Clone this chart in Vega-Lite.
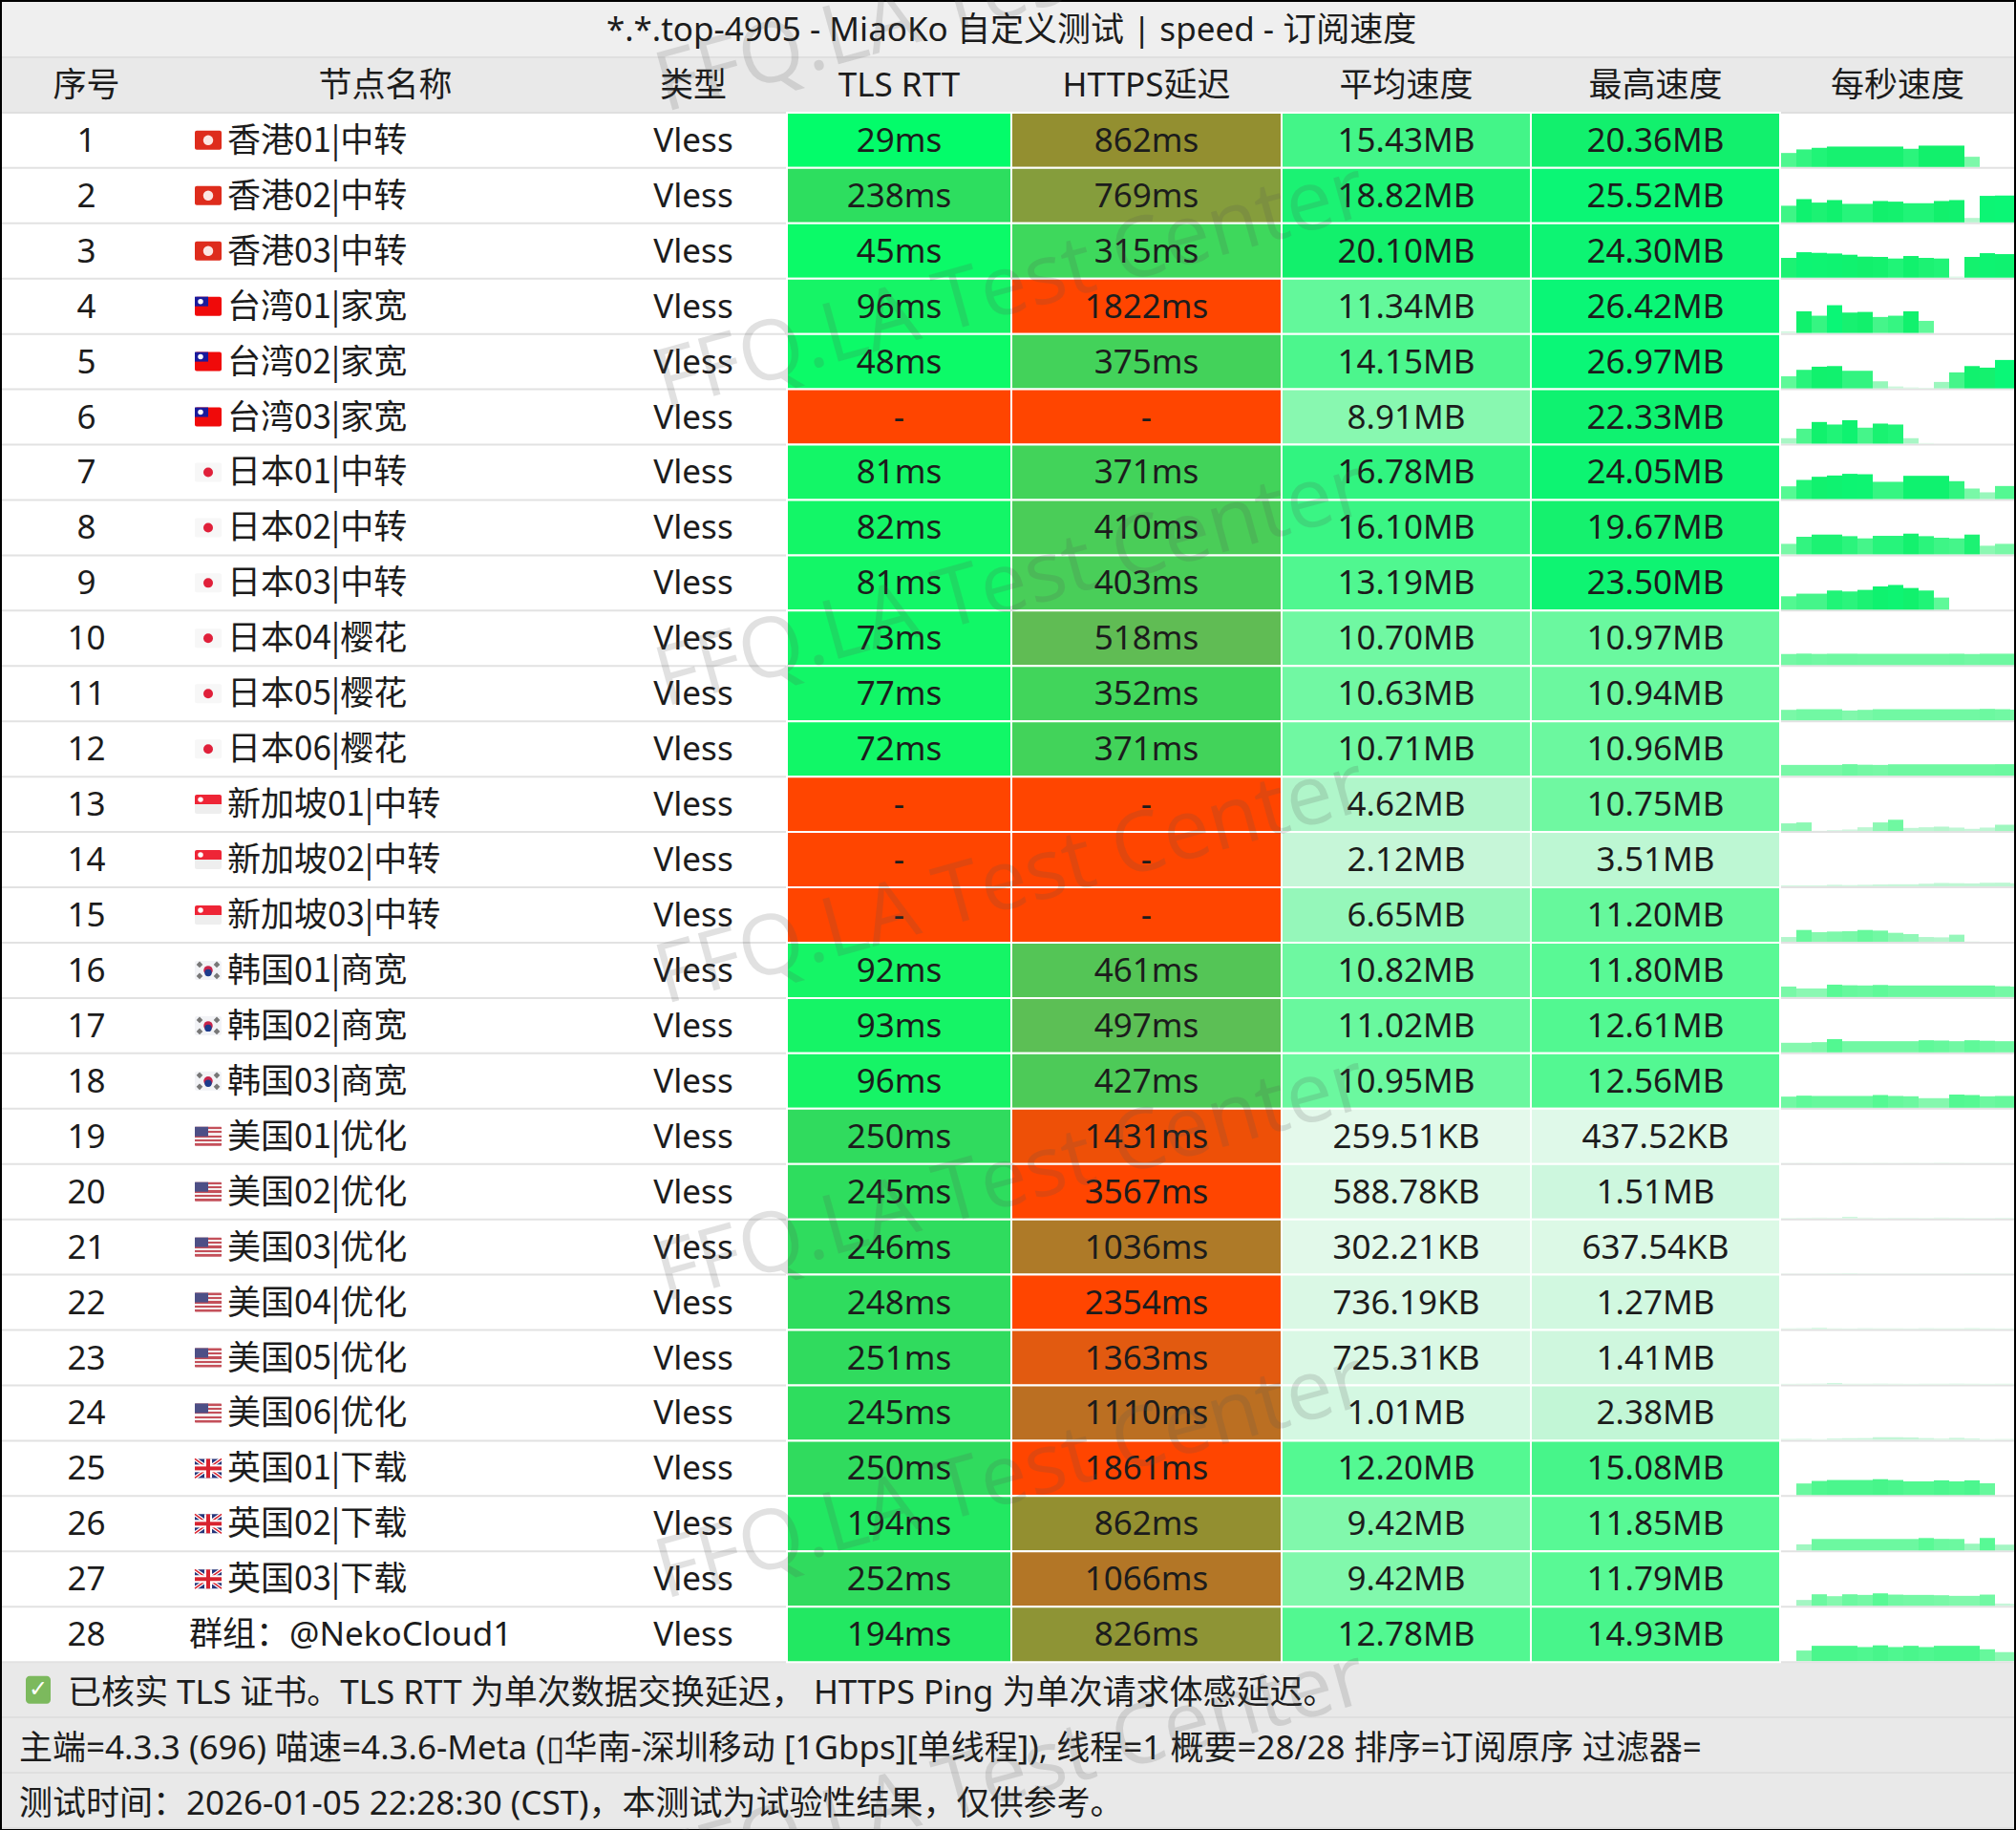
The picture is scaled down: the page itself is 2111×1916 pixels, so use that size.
{"$schema":"https://vega.github.io/schema/vega-lite/v6.json","width":2111,"height":1916,"padding":0,"autosize":"none","background":"#ffffff",
"config":{"view":{"stroke":"#000000","strokeWidth":4},"axis":{"disable":true},"legend":{"disable":true},"text":{"font":"Noto Sans, Noto Sans CJK SC","fontSize":35,"color":"#1c1c1c","dy":1}},
"datasets":{
"bands":[{"row":"标题","kind":"t","label":"*.*.top-4905 - MiaoKo 自定义测试 | speed - 订阅速度"},{"row":"表头","kind":"h"},{"row":"f1","kind":"f","label":"已核实 TLS 证书。TLS RTT 为单次数据交换延迟，  HTTPS Ping 为单次请求体感延迟。"},{"row":"f2","kind":"f","label":"主端=4.3.3 (696) 喵速=4.3.6-Meta (▯华南-深圳移动 [1Gbps][单线程]), 线程=1 概要=28/28 排序=订阅原序 过滤器="},{"row":"f3","kind":"f","label":"测试时间：2026-01-05 22:28:30 (CST)，本测试为试验性结果，仅供参考。"}],
"heads":[{"row":"表头","col":0.5,"label":"序号"},{"row":"表头","col":1.5,"label":"节点名称"},{"row":"表头","col":2.5,"label":"类型"},{"row":"表头","col":3.5,"label":"TLS RTT"},{"row":"表头","col":4.5,"label":"HTTPS延迟"},{"row":"表头","col":5.5,"label":"平均速度"},{"row":"表头","col":6.5,"label":"最高速度"},{"row":"表头","col":7.5,"label":"每秒速度"}],
"rows":[
{"row":"1","name":"香港01|中转","region":"HK","kind":"Vless","tls":29,"tlsT":"29ms","https":862,"httpsT":"862ms","avg":15.43,"avgT":"15.43MB","max":20.36,"maxT":"20.36MB"},
{"row":"2","name":"香港02|中转","region":"HK","kind":"Vless","tls":238,"tlsT":"238ms","https":769,"httpsT":"769ms","avg":18.82,"avgT":"18.82MB","max":25.52,"maxT":"25.52MB"},
{"row":"3","name":"香港03|中转","region":"HK","kind":"Vless","tls":45,"tlsT":"45ms","https":315,"httpsT":"315ms","avg":20.10,"avgT":"20.10MB","max":24.30,"maxT":"24.30MB"},
{"row":"4","name":"台湾01|家宽","region":"TW","kind":"Vless","tls":96,"tlsT":"96ms","https":1822,"httpsT":"1822ms","avg":11.34,"avgT":"11.34MB","max":26.42,"maxT":"26.42MB"},
{"row":"5","name":"台湾02|家宽","region":"TW","kind":"Vless","tls":48,"tlsT":"48ms","https":375,"httpsT":"375ms","avg":14.15,"avgT":"14.15MB","max":26.97,"maxT":"26.97MB"},
{"row":"6","name":"台湾03|家宽","region":"TW","kind":"Vless","tls":9999,"tlsT":"-","https":9999,"httpsT":"-","avg":8.91,"avgT":"8.91MB","max":22.33,"maxT":"22.33MB"},
{"row":"7","name":"日本01|中转","region":"JP","kind":"Vless","tls":81,"tlsT":"81ms","https":371,"httpsT":"371ms","avg":16.78,"avgT":"16.78MB","max":24.05,"maxT":"24.05MB"},
{"row":"8","name":"日本02|中转","region":"JP","kind":"Vless","tls":82,"tlsT":"82ms","https":410,"httpsT":"410ms","avg":16.10,"avgT":"16.10MB","max":19.67,"maxT":"19.67MB"},
{"row":"9","name":"日本03|中转","region":"JP","kind":"Vless","tls":81,"tlsT":"81ms","https":403,"httpsT":"403ms","avg":13.19,"avgT":"13.19MB","max":23.50,"maxT":"23.50MB"},
{"row":"10","name":"日本04|樱花","region":"JP","kind":"Vless","tls":73,"tlsT":"73ms","https":518,"httpsT":"518ms","avg":10.70,"avgT":"10.70MB","max":10.97,"maxT":"10.97MB"},
{"row":"11","name":"日本05|樱花","region":"JP","kind":"Vless","tls":77,"tlsT":"77ms","https":352,"httpsT":"352ms","avg":10.63,"avgT":"10.63MB","max":10.94,"maxT":"10.94MB"},
{"row":"12","name":"日本06|樱花","region":"JP","kind":"Vless","tls":72,"tlsT":"72ms","https":371,"httpsT":"371ms","avg":10.71,"avgT":"10.71MB","max":10.96,"maxT":"10.96MB"},
{"row":"13","name":"新加坡01|中转","region":"SG","kind":"Vless","tls":9999,"tlsT":"-","https":9999,"httpsT":"-","avg":4.62,"avgT":"4.62MB","max":10.75,"maxT":"10.75MB"},
{"row":"14","name":"新加坡02|中转","region":"SG","kind":"Vless","tls":9999,"tlsT":"-","https":9999,"httpsT":"-","avg":2.12,"avgT":"2.12MB","max":3.51,"maxT":"3.51MB"},
{"row":"15","name":"新加坡03|中转","region":"SG","kind":"Vless","tls":9999,"tlsT":"-","https":9999,"httpsT":"-","avg":6.65,"avgT":"6.65MB","max":11.20,"maxT":"11.20MB"},
{"row":"16","name":"韩国01|商宽","region":"KR","kind":"Vless","tls":92,"tlsT":"92ms","https":461,"httpsT":"461ms","avg":10.82,"avgT":"10.82MB","max":11.80,"maxT":"11.80MB"},
{"row":"17","name":"韩国02|商宽","region":"KR","kind":"Vless","tls":93,"tlsT":"93ms","https":497,"httpsT":"497ms","avg":11.02,"avgT":"11.02MB","max":12.61,"maxT":"12.61MB"},
{"row":"18","name":"韩国03|商宽","region":"KR","kind":"Vless","tls":96,"tlsT":"96ms","https":427,"httpsT":"427ms","avg":10.95,"avgT":"10.95MB","max":12.56,"maxT":"12.56MB"},
{"row":"19","name":"美国01|优化","region":"US","kind":"Vless","tls":250,"tlsT":"250ms","https":1431,"httpsT":"1431ms","avg":0.25,"avgT":"259.51KB","max":0.43,"maxT":"437.52KB"},
{"row":"20","name":"美国02|优化","region":"US","kind":"Vless","tls":245,"tlsT":"245ms","https":3567,"httpsT":"3567ms","avg":0.57,"avgT":"588.78KB","max":1.51,"maxT":"1.51MB"},
{"row":"21","name":"美国03|优化","region":"US","kind":"Vless","tls":246,"tlsT":"246ms","https":1036,"httpsT":"1036ms","avg":0.30,"avgT":"302.21KB","max":0.62,"maxT":"637.54KB"},
{"row":"22","name":"美国04|优化","region":"US","kind":"Vless","tls":248,"tlsT":"248ms","https":2354,"httpsT":"2354ms","avg":0.72,"avgT":"736.19KB","max":1.27,"maxT":"1.27MB"},
{"row":"23","name":"美国05|优化","region":"US","kind":"Vless","tls":251,"tlsT":"251ms","https":1363,"httpsT":"1363ms","avg":0.71,"avgT":"725.31KB","max":1.41,"maxT":"1.41MB"},
{"row":"24","name":"美国06|优化","region":"US","kind":"Vless","tls":245,"tlsT":"245ms","https":1110,"httpsT":"1110ms","avg":1.01,"avgT":"1.01MB","max":2.38,"maxT":"2.38MB"},
{"row":"25","name":"英国01|下载","region":"UK","kind":"Vless","tls":250,"tlsT":"250ms","https":1861,"httpsT":"1861ms","avg":12.20,"avgT":"12.20MB","max":15.08,"maxT":"15.08MB"},
{"row":"26","name":"英国02|下载","region":"UK","kind":"Vless","tls":194,"tlsT":"194ms","https":862,"httpsT":"862ms","avg":9.42,"avgT":"9.42MB","max":11.85,"maxT":"11.85MB"},
{"row":"27","name":"英国03|下载","region":"UK","kind":"Vless","tls":252,"tlsT":"252ms","https":1066,"httpsT":"1066ms","avg":9.42,"avgT":"9.42MB","max":11.79,"maxT":"11.79MB"},
{"row":"28","name":"群组：@NekoCloud1","region":"none","kind":"Vless","tls":194,"tlsT":"194ms","https":826,"httpsT":"826ms","avg":12.78,"avgT":"12.78MB","max":14.93,"maxT":"14.93MB"}
],
"marks":[{"n":0,"label":"FFQ.LA Test Center"},{"n":1,"label":"FFQ.LA Test Center"},{"n":2,"label":"FFQ.LA Test Center"},{"n":3,"label":"FFQ.LA Test Center"},{"n":4,"label":"FFQ.LA Test Center"},{"n":5,"label":"FFQ.LA Test Center"},{"n":6,"label":"FFQ.LA Test Center"}],
"spark":[
{"r":"1","t":0,"v":13.3},{"r":"1","t":1,"v":16.7},{"r":"1","t":2,"v":18.2},{"r":"1","t":3,"v":19.4},{"r":"1","t":4,"v":19.4},{"r":"1","t":5,"v":19.4},{"r":"1","t":6,"v":19.4},{"r":"1","t":7,"v":19.4},{"r":"1","t":8,"v":17.3},{"r":"1","t":9,"v":20.3},{"r":"1","t":10,"v":20.3},{"r":"1","t":11,"v":20.3},{"r":"1","t":12,"v":9.7},{"r":"1","t":13,"v":0},{"r":"1","t":14,"v":0},{"r":"1","t":15,"v":0},
{"r":"2","t":0,"v":15.8},{"r":"2","t":1,"v":22.1},{"r":"2","t":2,"v":18.8},{"r":"2","t":3,"v":21.2},{"r":"2","t":4,"v":17.6},{"r":"2","t":5,"v":17.6},{"r":"2","t":6,"v":20.3},{"r":"2","t":7,"v":19.7},{"r":"2","t":8,"v":18.2},{"r":"2","t":9,"v":18.2},{"r":"2","t":10,"v":20.3},{"r":"2","t":11,"v":21.2},{"r":"2","t":12,"v":4.2},{"r":"2","t":13,"v":25.2},{"r":"2","t":14,"v":25.5},{"r":"2","t":15,"v":25.5},
{"r":"3","t":0,"v":18.8},{"r":"3","t":1,"v":24.2},{"r":"3","t":2,"v":23.6},{"r":"3","t":3,"v":23},{"r":"3","t":4,"v":21.8},{"r":"3","t":5,"v":20},{"r":"3","t":6,"v":19.7},{"r":"3","t":7,"v":18.2},{"r":"3","t":8,"v":20.6},{"r":"3","t":9,"v":18.8},{"r":"3","t":10,"v":18.2},{"r":"3","t":11,"v":1},{"r":"3","t":12,"v":19.7},{"r":"3","t":13,"v":23.3},{"r":"3","t":14,"v":22.4},{"r":"3","t":15,"v":22.4},
{"r":"4","t":0,"v":1.5},{"r":"4","t":1,"v":20.6},{"r":"4","t":2,"v":16.4},{"r":"4","t":3,"v":26.4},{"r":"4","t":4,"v":19.4},{"r":"4","t":5,"v":20},{"r":"4","t":6,"v":15.2},{"r":"4","t":7,"v":16.4},{"r":"4","t":8,"v":20.6},{"r":"4","t":9,"v":11.5},{"r":"4","t":10,"v":0},{"r":"4","t":11,"v":0},{"r":"4","t":12,"v":0},{"r":"4","t":13,"v":0},{"r":"4","t":14,"v":0},{"r":"4","t":15,"v":0},
{"r":"5","t":0,"v":11.5},{"r":"5","t":1,"v":17.6},{"r":"5","t":2,"v":20.6},{"r":"5","t":3,"v":21.2},{"r":"5","t":4,"v":16.7},{"r":"5","t":5,"v":16.7},{"r":"5","t":6,"v":6.7},{"r":"5","t":7,"v":1.8},{"r":"5","t":8,"v":0.9},{"r":"5","t":9,"v":0.6},{"r":"5","t":10,"v":6.1},{"r":"5","t":11,"v":15.2},{"r":"5","t":12,"v":21.2},{"r":"5","t":13,"v":19.7},{"r":"5","t":14,"v":27},{"r":"5","t":15,"v":27},
{"r":"6","t":0,"v":5.2},{"r":"6","t":1,"v":14.2},{"r":"6","t":2,"v":20.6},{"r":"6","t":3,"v":18.2},{"r":"6","t":4,"v":22.3},{"r":"6","t":5,"v":15.2},{"r":"6","t":6,"v":19.1},{"r":"6","t":7,"v":18.2},{"r":"6","t":8,"v":5.2},{"r":"6","t":9,"v":0.6},{"r":"6","t":10,"v":0},{"r":"6","t":11,"v":0},{"r":"6","t":12,"v":0},{"r":"6","t":13,"v":0},{"r":"6","t":14,"v":0},{"r":"6","t":15,"v":0},
{"r":"7","t":0,"v":12.1},{"r":"7","t":1,"v":18.2},{"r":"7","t":2,"v":21.2},{"r":"7","t":3,"v":22.4},{"r":"7","t":4,"v":24},{"r":"7","t":5,"v":23.6},{"r":"7","t":6,"v":16.4},{"r":"7","t":7,"v":16.4},{"r":"7","t":8,"v":22.1},{"r":"7","t":9,"v":22.1},{"r":"7","t":10,"v":22.1},{"r":"7","t":11,"v":17},{"r":"7","t":12,"v":10},{"r":"7","t":13,"v":6.4},{"r":"7","t":14,"v":12.4},{"r":"7","t":15,"v":12.4},
{"r":"8","t":0,"v":10},{"r":"8","t":1,"v":16.7},{"r":"8","t":2,"v":18.8},{"r":"8","t":3,"v":18.8},{"r":"8","t":4,"v":17.3},{"r":"8","t":5,"v":15.2},{"r":"8","t":6,"v":17.6},{"r":"8","t":7,"v":17.6},{"r":"8","t":8,"v":19.7},{"r":"8","t":9,"v":17.3},{"r":"8","t":10,"v":15.8},{"r":"8","t":11,"v":15.2},{"r":"8","t":12,"v":18.8},{"r":"8","t":13,"v":8.2},{"r":"8","t":14,"v":10},{"r":"8","t":15,"v":10},
{"r":"9","t":0,"v":12.7},{"r":"9","t":1,"v":15.2},{"r":"9","t":2,"v":15.2},{"r":"9","t":3,"v":18.2},{"r":"9","t":4,"v":17.3},{"r":"9","t":5,"v":18.8},{"r":"9","t":6,"v":22.1},{"r":"9","t":7,"v":23.5},{"r":"9","t":8,"v":20.6},{"r":"9","t":9,"v":18.2},{"r":"9","t":10,"v":11.5},{"r":"9","t":11,"v":0},{"r":"9","t":12,"v":0},{"r":"9","t":13,"v":0},{"r":"9","t":14,"v":0},{"r":"9","t":15,"v":0},
{"r":"10","t":0,"v":10.5},{"r":"10","t":1,"v":10.9},{"r":"10","t":2,"v":10.6},{"r":"10","t":3,"v":10.8},{"r":"10","t":4,"v":10.8},{"r":"10","t":5,"v":10.7},{"r":"10","t":6,"v":10.7},{"r":"10","t":7,"v":10.7},{"r":"10","t":8,"v":10.7},{"r":"10","t":9,"v":10.7},{"r":"10","t":10,"v":10.7},{"r":"10","t":11,"v":10.8},{"r":"10","t":12,"v":10.5},{"r":"10","t":13,"v":10.8},{"r":"10","t":14,"v":10.8},{"r":"10","t":15,"v":10.8},
{"r":"11","t":0,"v":10},{"r":"11","t":1,"v":10.6},{"r":"11","t":2,"v":10.6},{"r":"11","t":3,"v":10.6},{"r":"11","t":4,"v":9.4},{"r":"11","t":5,"v":10},{"r":"11","t":6,"v":10.6},{"r":"11","t":7,"v":10.6},{"r":"11","t":8,"v":10.6},{"r":"11","t":9,"v":10.6},{"r":"11","t":10,"v":10.6},{"r":"11","t":11,"v":10.6},{"r":"11","t":12,"v":10.6},{"r":"11","t":13,"v":10.9},{"r":"11","t":14,"v":10.6},{"r":"11","t":15,"v":10.2},
{"r":"12","t":0,"v":10.2},{"r":"12","t":1,"v":10.2},{"r":"12","t":2,"v":10.2},{"r":"12","t":3,"v":10.2},{"r":"12","t":4,"v":10.9},{"r":"12","t":5,"v":10.4},{"r":"12","t":6,"v":10.2},{"r":"12","t":7,"v":10.8},{"r":"12","t":8,"v":10.8},{"r":"12","t":9,"v":10.8},{"r":"12","t":10,"v":10.8},{"r":"12","t":11,"v":10.8},{"r":"12","t":12,"v":10.8},{"r":"12","t":13,"v":10.8},{"r":"12","t":14,"v":10.9},{"r":"12","t":15,"v":10.9},
{"r":"13","t":0,"v":7.3},{"r":"13","t":1,"v":8.2},{"r":"13","t":2,"v":0.3},{"r":"13","t":3,"v":0.9},{"r":"13","t":4,"v":1.5},{"r":"13","t":5,"v":3.6},{"r":"13","t":6,"v":8.2},{"r":"13","t":7,"v":10.75},{"r":"13","t":8,"v":3},{"r":"13","t":9,"v":3.6},{"r":"13","t":10,"v":4.2},{"r":"13","t":11,"v":3.3},{"r":"13","t":12,"v":2.1},{"r":"13","t":13,"v":3.3},{"r":"13","t":14,"v":6},{"r":"13","t":15,"v":6},
{"r":"14","t":0,"v":1},{"r":"14","t":1,"v":1},{"r":"14","t":2,"v":1},{"r":"14","t":3,"v":1.5},{"r":"14","t":4,"v":1.2},{"r":"14","t":5,"v":1.5},{"r":"14","t":6,"v":1.8},{"r":"14","t":7,"v":2},{"r":"14","t":8,"v":2},{"r":"14","t":9,"v":2.5},{"r":"14","t":10,"v":3.2},{"r":"14","t":11,"v":3},{"r":"14","t":12,"v":2.8},{"r":"14","t":13,"v":3.4},{"r":"14","t":14,"v":3.5},{"r":"14","t":15,"v":3},
{"r":"15","t":0,"v":4.5},{"r":"15","t":1,"v":11.2},{"r":"15","t":2,"v":9.1},{"r":"15","t":3,"v":9.7},{"r":"15","t":4,"v":10},{"r":"15","t":5,"v":11.2},{"r":"15","t":6,"v":10.6},{"r":"15","t":7,"v":8.5},{"r":"15","t":8,"v":7.3},{"r":"15","t":9,"v":4.5},{"r":"15","t":10,"v":4.2},{"r":"15","t":11,"v":6.7},{"r":"15","t":12,"v":0.3},{"r":"15","t":13,"v":0},{"r":"15","t":14,"v":0},{"r":"15","t":15,"v":0},
{"r":"16","t":0,"v":10},{"r":"16","t":1,"v":8.2},{"r":"16","t":2,"v":8.2},{"r":"16","t":3,"v":11.8},{"r":"16","t":4,"v":11.2},{"r":"16","t":5,"v":11},{"r":"16","t":6,"v":11.5},{"r":"16","t":7,"v":11},{"r":"16","t":8,"v":11},{"r":"16","t":9,"v":11},{"r":"16","t":10,"v":11},{"r":"16","t":11,"v":11},{"r":"16","t":12,"v":11},{"r":"16","t":13,"v":11},{"r":"16","t":14,"v":10.3},{"r":"16","t":15,"v":10},
{"r":"17","t":0,"v":9.1},{"r":"17","t":1,"v":9.1},{"r":"17","t":2,"v":9.7},{"r":"17","t":3,"v":12.6},{"r":"17","t":4,"v":10.6},{"r":"17","t":5,"v":10.6},{"r":"17","t":6,"v":10.6},{"r":"17","t":7,"v":10.6},{"r":"17","t":8,"v":10.6},{"r":"17","t":9,"v":11.5},{"r":"17","t":10,"v":11.2},{"r":"17","t":11,"v":10.6},{"r":"17","t":12,"v":11.5},{"r":"17","t":13,"v":11},{"r":"17","t":14,"v":10.6},{"r":"17","t":15,"v":10.6},
{"r":"18","t":0,"v":10.6},{"r":"18","t":1,"v":11.5},{"r":"18","t":2,"v":11.2},{"r":"18","t":3,"v":11.2},{"r":"18","t":4,"v":11.2},{"r":"18","t":5,"v":11.2},{"r":"18","t":6,"v":12.1},{"r":"18","t":7,"v":11.2},{"r":"18","t":8,"v":10.9},{"r":"18","t":9,"v":9.1},{"r":"18","t":10,"v":9.1},{"r":"18","t":11,"v":12.56},{"r":"18","t":12,"v":12.1},{"r":"18","t":13,"v":10.9},{"r":"18","t":14,"v":11.2},{"r":"18","t":15,"v":11.2},
{"r":"19","t":0,"v":0.2},{"r":"19","t":1,"v":0.3},{"r":"19","t":2,"v":0.25},{"r":"19","t":3,"v":0.25},{"r":"19","t":4,"v":0.3},{"r":"19","t":5,"v":0.25},{"r":"19","t":6,"v":0.3},{"r":"19","t":7,"v":0.25},{"r":"19","t":8,"v":0.3},{"r":"19","t":9,"v":0.25},{"r":"19","t":10,"v":0.4},{"r":"19","t":11,"v":0.3},{"r":"19","t":12,"v":0.25},{"r":"19","t":13,"v":0.2},{"r":"19","t":14,"v":0.25},{"r":"19","t":15,"v":0.25},
{"r":"20","t":0,"v":0.5},{"r":"20","t":1,"v":0.6},{"r":"20","t":2,"v":0.7},{"r":"20","t":3,"v":0.6},{"r":"20","t":4,"v":1.5},{"r":"20","t":5,"v":0.7},{"r":"20","t":6,"v":0.5},{"r":"20","t":7,"v":0.6},{"r":"20","t":8,"v":0.6},{"r":"20","t":9,"v":0.5},{"r":"20","t":10,"v":0.7},{"r":"20","t":11,"v":0.6},{"r":"20","t":12,"v":0.5},{"r":"20","t":13,"v":0.4},{"r":"20","t":14,"v":0.6},{"r":"20","t":15,"v":0.6},
{"r":"21","t":0,"v":0.3},{"r":"21","t":1,"v":0.2},{"r":"21","t":2,"v":0.3},{"r":"21","t":3,"v":0.4},{"r":"21","t":4,"v":0.6},{"r":"21","t":5,"v":0.3},{"r":"21","t":6,"v":0.3},{"r":"21","t":7,"v":0.2},{"r":"21","t":8,"v":0.3},{"r":"21","t":9,"v":0.3},{"r":"21","t":10,"v":0.3},{"r":"21","t":11,"v":0.2},{"r":"21","t":12,"v":0.4},{"r":"21","t":13,"v":0.3},{"r":"21","t":14,"v":0.3},{"r":"21","t":15,"v":0.2},
{"r":"22","t":0,"v":0.7},{"r":"22","t":1,"v":0.8},{"r":"22","t":2,"v":1.2},{"r":"22","t":3,"v":0.7},{"r":"22","t":4,"v":0.6},{"r":"22","t":5,"v":0.8},{"r":"22","t":6,"v":0.7},{"r":"22","t":7,"v":0.7},{"r":"22","t":8,"v":0.6},{"r":"22","t":9,"v":0.8},{"r":"22","t":10,"v":0.7},{"r":"22","t":11,"v":0.7},{"r":"22","t":12,"v":0.9},{"r":"22","t":13,"v":0.7},{"r":"22","t":14,"v":0.6},{"r":"22","t":15,"v":0.7},
{"r":"23","t":0,"v":0.6},{"r":"23","t":1,"v":0.7},{"r":"23","t":2,"v":0.8},{"r":"23","t":3,"v":1.4},{"r":"23","t":4,"v":0.7},{"r":"23","t":5,"v":0.7},{"r":"23","t":6,"v":0.8},{"r":"23","t":7,"v":0.7},{"r":"23","t":8,"v":0.6},{"r":"23","t":9,"v":0.7},{"r":"23","t":10,"v":0.7},{"r":"23","t":11,"v":0.8},{"r":"23","t":12,"v":0.7},{"r":"23","t":13,"v":0.6},{"r":"23","t":14,"v":0.7},{"r":"23","t":15,"v":0.7},
{"r":"24","t":0,"v":0.8},{"r":"24","t":1,"v":0.9},{"r":"24","t":2,"v":0.6},{"r":"24","t":3,"v":1.2},{"r":"24","t":4,"v":1.5},{"r":"24","t":5,"v":1.6},{"r":"24","t":6,"v":2.4},{"r":"24","t":7,"v":2.4},{"r":"24","t":8,"v":2.2},{"r":"24","t":9,"v":1.6},{"r":"24","t":10,"v":1.1},{"r":"24","t":11,"v":1.8},{"r":"24","t":12,"v":1.2},{"r":"24","t":13,"v":0.6},{"r":"24","t":14,"v":0.7},{"r":"24","t":15,"v":0.8},
{"r":"25","t":0,"v":0},{"r":"25","t":1,"v":11},{"r":"25","t":2,"v":13.4},{"r":"25","t":3,"v":14.3},{"r":"25","t":4,"v":14.3},{"r":"25","t":5,"v":14.3},{"r":"25","t":6,"v":15.08},{"r":"25","t":7,"v":14.3},{"r":"25","t":8,"v":13},{"r":"25","t":9,"v":13},{"r":"25","t":10,"v":14},{"r":"25","t":11,"v":13},{"r":"25","t":12,"v":14},{"r":"25","t":13,"v":11.2},{"r":"25","t":14,"v":0},{"r":"25","t":15,"v":0},
{"r":"26","t":0,"v":0},{"r":"26","t":1,"v":5.8},{"r":"26","t":2,"v":10.9},{"r":"26","t":3,"v":10.9},{"r":"26","t":4,"v":10.9},{"r":"26","t":5,"v":10.9},{"r":"26","t":6,"v":10.9},{"r":"26","t":7,"v":10.9},{"r":"26","t":8,"v":10.9},{"r":"26","t":9,"v":11.8},{"r":"26","t":10,"v":11},{"r":"26","t":11,"v":10.9},{"r":"26","t":12,"v":6.4},{"r":"26","t":13,"v":11.85},{"r":"26","t":14,"v":5.5},{"r":"26","t":15,"v":5.5},
{"r":"27","t":0,"v":0},{"r":"27","t":1,"v":5.5},{"r":"27","t":2,"v":10.9},{"r":"27","t":3,"v":9.1},{"r":"27","t":4,"v":10.9},{"r":"27","t":5,"v":10.3},{"r":"27","t":6,"v":11.79},{"r":"27","t":7,"v":10.6},{"r":"27","t":8,"v":10.3},{"r":"27","t":9,"v":10.3},{"r":"27","t":10,"v":10},{"r":"27","t":11,"v":9.4},{"r":"27","t":12,"v":9.4},{"r":"27","t":13,"v":10.6},{"r":"27","t":14,"v":2.1},{"r":"27","t":15,"v":1.8},
{"r":"28","t":0,"v":0},{"r":"28","t":1,"v":10},{"r":"28","t":2,"v":14.5},{"r":"28","t":3,"v":14.5},{"r":"28","t":4,"v":14.5},{"r":"28","t":5,"v":13.3},{"r":"28","t":6,"v":14.93},{"r":"28","t":7,"v":13.3},{"r":"28","t":8,"v":14.5},{"r":"28","t":9,"v":13.3},{"r":"28","t":10,"v":14.5},{"r":"28","t":11,"v":14.5},{"r":"28","t":12,"v":14.5},{"r":"28","t":13,"v":11.2},{"r":"28","t":14,"v":8.5},{"r":"28","t":15,"v":8.5}
]},
"resolve":{"scale":{"x":"independent","y":"independent","color":"independent"}},
"layer":[
{"encoding":{"y":{"field":"row","type":"nominal","scale":{"type":"band","domain":["标题","表头","1","2","3","4","5","6","7","8","9","10","11","12","13","14","15","16","17","18","19","20","21","22","23","24","25","26","27","28","f1","f2","f3"],"range":[2,1914],"paddingInner":0,"paddingOuter":0}}},
"resolve":{"scale":{"x":"shared","y":"shared","color":"independent"}},
"layer":[
{"data":{"name":"bands"},"mark":{"type":"rect"},"encoding":{"x":{"datum":0,"type":"quantitative","scale":{"domain":[0,1,2,3,4,5,6,7,8],"range":[2,179,628,824,1059,1342,1603,1864,2110]}},"x2":{"datum":8},"color":{"field":"kind","type":"nominal","scale":{"domain":["t","h","f"],"range":["#efefef","#e9e9e9","#e9e9e9"]}}}},
{"data":{"name":"bands"},"mark":{"type":"rule","color":"#dfdfdf","strokeWidth":2},"encoding":{"y":{"field":"row","type":"nominal","bandPosition":1},"x":{"datum":0,"type":"quantitative","scale":{"domain":[0,1,2,3,4,5,6,7,8],"range":[2,179,628,824,1059,1342,1603,1864,2110]}},"x2":{"datum":8}}},
{"data":{"name":"rows"},"mark":{"type":"rule","color":"#e2e2e2","strokeWidth":2},"encoding":{"y":{"field":"row","type":"nominal","bandPosition":1},"x":{"datum":0,"type":"quantitative","scale":{"domain":[0,1,2,3,4,5,6,7,8],"range":[2,179,628,824,1059,1342,1603,1864,2110]}},"x2":{"datum":8}}},
{"data":{"name":"rows"},"mark":{"type":"rect","stroke":"#ffffff","strokeWidth":2},"encoding":{"x":{"datum":3,"type":"quantitative","scale":{"domain":[0,1,2,3,4,5,6,7,8],"range":[2,179,628,824,1059,1342,1603,1864,2110]}},"x2":{"datum":4},"color":{"field":"tls","type":"quantitative","scale":{"interpolate":"rgb","domain":[29,48,96,194,252,253,9999],"range":["#03fc6a","#0cfa68","#16f466","#22e862","#30db5e","#ff4500","#ff4500"]}}}},
{"data":{"name":"rows"},"mark":{"type":"rect","stroke":"#ffffff","strokeWidth":2},"encoding":{"x":{"datum":4,"type":"quantitative","scale":{"domain":[0,1,2,3,4,5,6,7,8],"range":[2,179,628,824,1059,1342,1603,1864,2110]}},"x2":{"datum":5},"color":{"field":"https","type":"quantitative","scale":{"interpolate":"rgb","clamp":true,"domain":[315,371,518,769,862,1036,1110,1363,1431,1822],"range":["#3ed85c","#42d35a","#60bc54","#859d3c","#938f30","#ae7a28","#bb6f22","#e25a10","#ee5007","#ff4500"]}}}},
{"data":{"name":"rows"},"mark":{"type":"rect","stroke":"#ffffff","strokeWidth":2},"encoding":{"x":{"datum":5,"type":"quantitative","scale":{"domain":[0,1,2,3,4,5,6,7,8],"range":[2,179,628,824,1059,1342,1603,1864,2110]}},"x2":{"datum":6},"color":{"field":"avg","type":"quantitative","scale":{"interpolate":"rgb","domain":[0,0.3,1,2.4,3.5,4.6,6.65,8.9,10.7,12,15,18,20,25],"range":["#ecfbf1","#e2f9ea","#d4f8e2","#c2f6d6","#bdf7d3","#b0f6ca","#95f7ba","#88f8b0","#70f8a2","#55f993","#48f58b","#22f478","#12f06c","#0cf574"]}}}},
{"data":{"name":"rows"},"mark":{"type":"rect","stroke":"#ffffff","strokeWidth":2},"encoding":{"x":{"datum":6,"type":"quantitative","scale":{"domain":[0,1,2,3,4,5,6,7,8],"range":[2,179,628,824,1059,1342,1603,1864,2110]}},"x2":{"datum":7},"color":{"field":"max","type":"quantitative","scale":{"interpolate":"rgb","domain":[0,0.3,1,2.4,3.5,4.6,6.65,8.9,10.7,12,15,18,20,25],"range":["#ecfbf1","#e2f9ea","#d4f8e2","#c2f6d6","#bdf7d3","#b0f6ca","#95f7ba","#88f8b0","#70f8a2","#55f993","#48f58b","#22f478","#12f06c","#0cf574"]}}}},
{"data":{"name":"bands"},"transform":[{"filter":"datum.kind=='t'"}],"mark":{"type":"text","fontSize":35},"encoding":{"x":{"datum":4,"type":"quantitative","scale":{"domain":[0,1,2,3,4,5,6,7,8],"range":[2,179,628,824,1059,1342,1603,1864,2110]}},"text":{"field":"label"}}},
{"data":{"name":"heads"},"mark":{"type":"text"},"encoding":{"x":{"field":"col","type":"quantitative","scale":{"domain":[0,1,2,3,4,5,6,7,8],"range":[2,179,628,824,1059,1342,1603,1864,2110]}},"text":{"field":"label"}}},
{"data":{"name":"rows"},"mark":{"type":"text"},"encoding":{"x":{"datum":0.5,"type":"quantitative","scale":{"domain":[0,1,2,3,4,5,6,7,8],"range":[2,179,628,824,1059,1342,1603,1864,2110]}},"text":{"field":"row"}}},
{"data":{"name":"rows"},"mark":{"type":"text"},"encoding":{"x":{"datum":2.5,"type":"quantitative","scale":{"domain":[0,1,2,3,4,5,6,7,8],"range":[2,179,628,824,1059,1342,1603,1864,2110]}},"text":{"field":"kind"}}},
{"data":{"name":"rows"},"mark":{"type":"text"},"encoding":{"x":{"datum":3.5,"type":"quantitative","scale":{"domain":[0,1,2,3,4,5,6,7,8],"range":[2,179,628,824,1059,1342,1603,1864,2110]}},"text":{"field":"tlsT"}}},
{"data":{"name":"rows"},"mark":{"type":"text"},"encoding":{"x":{"datum":4.5,"type":"quantitative","scale":{"domain":[0,1,2,3,4,5,6,7,8],"range":[2,179,628,824,1059,1342,1603,1864,2110]}},"text":{"field":"httpsT"}}},
{"data":{"name":"rows"},"mark":{"type":"text"},"encoding":{"x":{"datum":5.5,"type":"quantitative","scale":{"domain":[0,1,2,3,4,5,6,7,8],"range":[2,179,628,824,1059,1342,1603,1864,2110]}},"text":{"field":"avgT"}}},
{"data":{"name":"rows"},"mark":{"type":"text"},"encoding":{"x":{"datum":6.5,"type":"quantitative","scale":{"domain":[0,1,2,3,4,5,6,7,8],"range":[2,179,628,824,1059,1342,1603,1864,2110]}},"text":{"field":"maxT"}}}
]},
{"encoding":{"y":{"field":"row","type":"nominal","scale":{"type":"band","domain":["标题","表头","1","2","3","4","5","6","7","8","9","10","11","12","13","14","15","16","17","18","19","20","21","22","23","24","25","26","27","28","f1","f2","f3"],"range":[2,1914],"paddingInner":0,"paddingOuter":0}}},
"resolve":{"scale":{"x":"independent","y":"shared","color":"independent"}},
"layer":[
{"data":{"name":"rows"},"transform":[{"filter":"datum.region!='none'"}],"mark":{"type":"text","align":"left","font":"Noto Sans CJK SC","fontSize":35},"encoding":{"x":{"datum":"名称","type":"nominal","scale":{"type":"point","domain":["名称"],"range":[238,238]}},"text":{"field":"name"}}},
{"data":{"name":"rows"},"transform":[{"filter":"datum.region=='none'"}],"mark":{"type":"text","align":"left","fontSize":35},"encoding":{"x":{"datum":"群组","type":"nominal","scale":{"type":"point","domain":["群组"],"range":[198,198]}},"text":{"field":"name"}}},
{"data":{"name":"bands"},"transform":[{"filter":"datum.row=='f1'"}],"mark":{"type":"rect","width":26,"height":29,"cornerRadius":4,"color":"#7cb95d"},"encoding":{"x":{"datum":"勾","type":"nominal","scale":{"type":"point","domain":["勾"],"range":[40,40]}}}},
{"data":{"name":"bands"},"transform":[{"filter":"datum.row=='f1'"}],"mark":{"type":"text","text":"✓","font":"DejaVu Sans","fontWeight":"bold","fontSize":24,"color":"#ffffff","dy":0},"encoding":{"x":{"datum":"勾","type":"nominal","scale":{"type":"point","domain":["勾"],"range":[40,40]}}}},
{"data":{"name":"bands"},"transform":[{"filter":"datum.row=='f1'"}],"mark":{"type":"text","align":"left","fontSize":35,"dy":4},"encoding":{"x":{"datum":"注","type":"nominal","scale":{"type":"point","domain":["注"],"range":[71,71]}},"text":{"field":"label"}}},
{"data":{"name":"bands"},"transform":[{"filter":"datum.row=='f2'||datum.row=='f3'"}],"mark":{"type":"text","align":"left","fontSize":35,"dy":4},"encoding":{"x":{"datum":"注","type":"nominal","scale":{"type":"point","domain":["注"],"range":[20,20]}},"text":{"field":"label"}}}
]},
{"data":{"name":"rows"},"encoding":{"x":{"datum":"旗","type":"nominal","scale":{"type":"point","domain":["旗"],"range":[218,218]}},"y":{"field":"row","type":"nominal","scale":{"type":"band","domain":["标题","表头","1","2","3","4","5","6","7","8","9","10","11","12","13","14","15","16","17","18","19","20","21","22","23","24","25","26","27","28","f1","f2","f3"],"range":[2,1914],"paddingInner":0,"paddingOuter":0}}},
"resolve":{"scale":{"x":"shared","y":"shared","color":"independent"}},
"layer":[
{"transform":[{"filter":"datum.region=='HK'||datum.region=='TW'||datum.region=='JP'||datum.region=='KR'||datum.region=='UK'"}],"mark":{"type":"rect","width":28,"height":20,"cornerRadius":2},"encoding":{"color":{"field":"region","type":"nominal","scale":{"domain":["HK","TW","JP","KR","UK"],"range":["#de2c1c","#f00a0a","#f7f7f7","#f2f3f6","#26357a"]}}}},
{"transform":[{"filter":"datum.region=='SG'"}],"mark":{"type":"rect","width":28,"height":20,"cornerRadius":2,"fill":{"gradient":"linear","x1":0,"y1":0,"x2":0,"y2":1,"stops":[{"offset":0,"color":"#ee2536"},{"offset":0.5,"color":"#ee2536"},{"offset":0.5,"color":"#eeeeee"},{"offset":1,"color":"#eeeeee"}]}}},
{"transform":[{"filter":"datum.region=='US'"}],"mark":{"type":"rect","width":28,"height":20,"cornerRadius":1,"fill":{"gradient":"linear","x1":0,"y1":0,"x2":0,"y2":1,"stops":[{"offset":0,"color":"#c4505a"},{"offset":0.11,"color":"#c4505a"},{"offset":0.11,"color":"#f5eeee"},{"offset":0.22,"color":"#f5eeee"},{"offset":0.22,"color":"#c4505a"},{"offset":0.33,"color":"#c4505a"},{"offset":0.33,"color":"#f5eeee"},{"offset":0.44,"color":"#f5eeee"},{"offset":0.44,"color":"#c4505a"},{"offset":0.55,"color":"#c4505a"},{"offset":0.55,"color":"#f5eeee"},{"offset":0.66,"color":"#f5eeee"},{"offset":0.66,"color":"#c4505a"},{"offset":0.77,"color":"#c4505a"},{"offset":0.77,"color":"#f5eeee"},{"offset":0.88,"color":"#f5eeee"},{"offset":0.88,"color":"#c4505a"},{"offset":1,"color":"#c4505a"}]}}},
{"transform":[{"filter":"datum.region=='TW'||datum.region=='US'"}],"mark":{"type":"rect","width":14,"height":10,"xOffset":-7,"yOffset":-5},"encoding":{"color":{"field":"region","type":"nominal","scale":{"domain":["TW","US"],"range":["#1a1a9c","#4d4f86"]}}}},
{"transform":[{"filter":"datum.region=='HK'||datum.region=='JP'||datum.region=='KR'"}],"mark":{"type":"circle","opacity":1},"encoding":{"color":{"field":"region","type":"nominal","scale":{"domain":["HK","JP","KR"],"range":["#fbe6e2","#e0203a","#c8234a"]}},"size":{"field":"region","type":"nominal","scale":{"domain":["HK","JP","KR"],"range":[110,90,150]}}}},
{"transform":[{"filter":"datum.region=='KR'"}],"mark":{"type":"circle","opacity":1,"size":55,"yOffset":2.5,"color":"#1c3a8c"}},
{"transform":[{"filter":"datum.region=='TW'||datum.region=='SG'"}],"mark":{"type":"circle","opacity":1,"size":30,"xOffset":-8,"yOffset":-5,"color":"#ffffff"}},
{"transform":[{"filter":"datum.region=='KR'"}],"mark":{"type":"point","shape":"square","filled":true,"opacity":1,"size":22,"angle":45,"xOffset":-9,"yOffset":-6,"color":"#777777"}},
{"transform":[{"filter":"datum.region=='KR'"}],"mark":{"type":"point","shape":"square","filled":true,"opacity":1,"size":22,"angle":45,"xOffset":9,"yOffset":-6,"color":"#777777"}},
{"transform":[{"filter":"datum.region=='KR'"}],"mark":{"type":"point","shape":"square","filled":true,"opacity":1,"size":22,"angle":45,"xOffset":-9,"yOffset":6,"color":"#777777"}},
{"transform":[{"filter":"datum.region=='KR'"}],"mark":{"type":"point","shape":"square","filled":true,"opacity":1,"size":22,"angle":45,"xOffset":9,"yOffset":6,"color":"#777777"}},
{"transform":[{"filter":"datum.region=='UK'"}],"mark":{"type":"point","shape":"M-1,-0.71L1,0.71M-1,0.71L1,-0.71","size":784,"opacity":1,"stroke":"#ffffff","strokeWidth":4,"fill":null}},
{"transform":[{"filter":"datum.region=='UK'"}],"mark":{"type":"point","shape":"M-1,-0.71L1,0.71M-1,0.71L1,-0.71","size":784,"opacity":1,"stroke":"#d8232f","strokeWidth":1.5,"fill":null}},
{"transform":[{"filter":"datum.region=='UK'"}],"mark":{"type":"rect","width":8,"height":20,"color":"#ffffff"}},
{"transform":[{"filter":"datum.region=='UK'"}],"mark":{"type":"rect","width":28,"height":8,"color":"#ffffff"}},
{"transform":[{"filter":"datum.region=='UK'"}],"mark":{"type":"rect","width":4,"height":20,"color":"#d8232f"}},
{"transform":[{"filter":"datum.region=='UK'"}],"mark":{"type":"rect","width":28,"height":4,"color":"#d8232f"}}
]},
{"data":{"name":"spark"},"encoding":{"x":{"field":"t","type":"ordinal","scale":{"type":"band","domain":[0,1,2,3,4,5,6,7,8,9,10,11,12,13,14,15],"range":[1865,2121],"paddingInner":0,"paddingOuter":0}},"color":{"field":"v","type":"quantitative","scale":{"interpolate":"rgb","domain":[0,0.3,1,2.4,3.5,4.6,6.65,8.9,10.7,12,15,18,20,25],"range":["#ecfbf1","#e2f9ea","#d4f8e2","#c2f6d6","#bdf7d3","#b0f6ca","#95f7ba","#88f8b0","#70f8a2","#55f993","#48f58b","#22f478","#12f06c","#0cf574"]}}},
"resolve":{"scale":{"x":"shared","y":"independent","color":"shared"}},
"layer":[
{"transform":[{"filter":"datum.r=='1'"}],"mark":{"type":"bar","clip":true},"encoding":{"y":{"field":"v","type":"quantitative","scale":{"domain":[0,52.7],"range":[174.8,116.8]}}}},
{"transform":[{"filter":"datum.r=='2'"}],"mark":{"type":"bar","clip":true},"encoding":{"y":{"field":"v","type":"quantitative","scale":{"domain":[0,52.7],"range":[232.8,174.8]}}}},
{"transform":[{"filter":"datum.r=='3'"}],"mark":{"type":"bar","clip":true},"encoding":{"y":{"field":"v","type":"quantitative","scale":{"domain":[0,52.7],"range":[290.7,232.7]}}}},
{"transform":[{"filter":"datum.r=='4'"}],"mark":{"type":"bar","clip":true},"encoding":{"y":{"field":"v","type":"quantitative","scale":{"domain":[0,52.7],"range":[348.6,290.6]}}}},
{"transform":[{"filter":"datum.r=='5'"}],"mark":{"type":"bar","clip":true},"encoding":{"y":{"field":"v","type":"quantitative","scale":{"domain":[0,52.7],"range":[406.6,348.6]}}}},
{"transform":[{"filter":"datum.r=='6'"}],"mark":{"type":"bar","clip":true},"encoding":{"y":{"field":"v","type":"quantitative","scale":{"domain":[0,52.7],"range":[464.5,406.5]}}}},
{"transform":[{"filter":"datum.r=='7'"}],"mark":{"type":"bar","clip":true},"encoding":{"y":{"field":"v","type":"quantitative","scale":{"domain":[0,52.7],"range":[522.5,464.5]}}}},
{"transform":[{"filter":"datum.r=='8'"}],"mark":{"type":"bar","clip":true},"encoding":{"y":{"field":"v","type":"quantitative","scale":{"domain":[0,52.7],"range":[580.4,522.4]}}}},
{"transform":[{"filter":"datum.r=='9'"}],"mark":{"type":"bar","clip":true},"encoding":{"y":{"field":"v","type":"quantitative","scale":{"domain":[0,52.7],"range":[638.3,580.3]}}}},
{"transform":[{"filter":"datum.r=='10'"}],"mark":{"type":"bar","clip":true},"encoding":{"y":{"field":"v","type":"quantitative","scale":{"domain":[0,52.7],"range":[696.3,638.3]}}}},
{"transform":[{"filter":"datum.r=='11'"}],"mark":{"type":"bar","clip":true},"encoding":{"y":{"field":"v","type":"quantitative","scale":{"domain":[0,52.7],"range":[754.2,696.2]}}}},
{"transform":[{"filter":"datum.r=='12'"}],"mark":{"type":"bar","clip":true},"encoding":{"y":{"field":"v","type":"quantitative","scale":{"domain":[0,52.7],"range":[812.1,754.1]}}}},
{"transform":[{"filter":"datum.r=='13'"}],"mark":{"type":"bar","clip":true},"encoding":{"y":{"field":"v","type":"quantitative","scale":{"domain":[0,52.7],"range":[870.1,812.1]}}}},
{"transform":[{"filter":"datum.r=='14'"}],"mark":{"type":"bar","clip":true},"encoding":{"y":{"field":"v","type":"quantitative","scale":{"domain":[0,52.7],"range":[928,870]}}}},
{"transform":[{"filter":"datum.r=='15'"}],"mark":{"type":"bar","clip":true},"encoding":{"y":{"field":"v","type":"quantitative","scale":{"domain":[0,52.7],"range":[986,928]}}}},
{"transform":[{"filter":"datum.r=='16'"}],"mark":{"type":"bar","clip":true},"encoding":{"y":{"field":"v","type":"quantitative","scale":{"domain":[0,52.7],"range":[1043.9,985.9]}}}},
{"transform":[{"filter":"datum.r=='17'"}],"mark":{"type":"bar","clip":true},"encoding":{"y":{"field":"v","type":"quantitative","scale":{"domain":[0,52.7],"range":[1101.8,1043.8]}}}},
{"transform":[{"filter":"datum.r=='18'"}],"mark":{"type":"bar","clip":true},"encoding":{"y":{"field":"v","type":"quantitative","scale":{"domain":[0,52.7],"range":[1159.8,1101.8]}}}},
{"transform":[{"filter":"datum.r=='19'"}],"mark":{"type":"bar","clip":true},"encoding":{"y":{"field":"v","type":"quantitative","scale":{"domain":[0,52.7],"range":[1217.7,1159.7]}}}},
{"transform":[{"filter":"datum.r=='20'"}],"mark":{"type":"bar","clip":true},"encoding":{"y":{"field":"v","type":"quantitative","scale":{"domain":[0,52.7],"range":[1275.6,1217.6]}}}},
{"transform":[{"filter":"datum.r=='21'"}],"mark":{"type":"bar","clip":true},"encoding":{"y":{"field":"v","type":"quantitative","scale":{"domain":[0,52.7],"range":[1333.6,1275.6]}}}},
{"transform":[{"filter":"datum.r=='22'"}],"mark":{"type":"bar","clip":true},"encoding":{"y":{"field":"v","type":"quantitative","scale":{"domain":[0,52.7],"range":[1391.5,1333.5]}}}},
{"transform":[{"filter":"datum.r=='23'"}],"mark":{"type":"bar","clip":true},"encoding":{"y":{"field":"v","type":"quantitative","scale":{"domain":[0,52.7],"range":[1449.5,1391.5]}}}},
{"transform":[{"filter":"datum.r=='24'"}],"mark":{"type":"bar","clip":true},"encoding":{"y":{"field":"v","type":"quantitative","scale":{"domain":[0,52.7],"range":[1507.4,1449.4]}}}},
{"transform":[{"filter":"datum.r=='25'"}],"mark":{"type":"bar","clip":true},"encoding":{"y":{"field":"v","type":"quantitative","scale":{"domain":[0,52.7],"range":[1565.3,1507.3]}}}},
{"transform":[{"filter":"datum.r=='26'"}],"mark":{"type":"bar","clip":true},"encoding":{"y":{"field":"v","type":"quantitative","scale":{"domain":[0,52.7],"range":[1623.3,1565.3]}}}},
{"transform":[{"filter":"datum.r=='27'"}],"mark":{"type":"bar","clip":true},"encoding":{"y":{"field":"v","type":"quantitative","scale":{"domain":[0,52.7],"range":[1681.2,1623.2]}}}},
{"transform":[{"filter":"datum.r=='28'"}],"mark":{"type":"bar","clip":true},"encoding":{"y":{"field":"v","type":"quantitative","scale":{"domain":[0,52.7],"range":[1739.1,1681.1]}}}}
]},
{"data":{"name":"marks"},"mark":{"type":"text","fontSize":87,"angle":344.5,"color":"#555555","opacity":0.17,"font":"Open Sans","clip":true,"dy":0},"encoding":{"x":{"datum":4,"type":"quantitative","scale":{"domain":[0,1,2,3,4,5,6,7,8],"range":[2,179,628,824,1059,1342,1603,1864,2110]}},"y":{"field":"n","type":"quantitative","scale":{"domain":[0,6],"range":[-10,1858]}},"text":{"field":"label"}}},
{"data":{"name":"marks"},"mark":{"type":"rule","color":"#000000","strokeWidth":2},"encoding":{"x":{"datum":8,"type":"quantitative","scale":{"domain":[0,1,2,3,4,5,6,7,8],"range":[2,179,628,824,1059,1342,1603,1864,2110]}}}}
]}
